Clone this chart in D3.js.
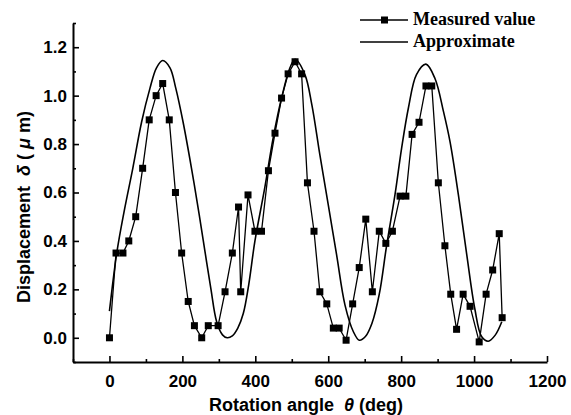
<!DOCTYPE html>
<html>
<head>
<meta charset="utf-8">
<script src="https://cdn.jsdelivr.net/npm/d3@7"></script>
<style>
  body { margin: 0; background: #fff; }
  .tick text { font-family: "Liberation Sans", Arial, sans-serif; font-weight: bold; font-size: 17px; }
</style>
</head>
<body>
<script>
// measured points (angle in deg, displacement in um)
var measuredAngle = [0, 18, 37, 53, 72, 91, 109, 128, 146, 164, 181, 198, 216, 233, 253, 271, 298, 317, 337, 354, 360,
  380, 399, 417, 436, 454, 472, 490, 509, 527, 543, 561, 577, 596, 614, 630, 649, 667, 685, 703, 721,
  740, 758, 776, 797, 813, 830, 849, 868, 884, 902, 920, 936, 952, 970, 989, 1014, 1033, 1051, 1069, 1077];
var measuredValue = [0.0, 0.35, 0.35, 0.40, 0.50, 0.70, 0.90, 1.00, 1.05, 0.90, 0.60, 0.35, 0.15, 0.05, 0.0, 0.05, 0.05, 0.19, 0.35, 0.54, 0.19,
  0.59, 0.44, 0.44, 0.69, 0.845, 0.99, 1.09, 1.14, 1.09, 0.64, 0.44, 0.19, 0.14, 0.04, 0.04, -0.01, 0.14, 0.29, 0.49, 0.19,
  0.44, 0.39, 0.44, 0.585, 0.585, 0.84, 0.89, 1.04, 1.04, 0.64, 0.38, 0.18, 0.035, 0.18, 0.13, -0.017, 0.18, 0.28, 0.43, 0.083];

// approximate curve
var approxAngle = [0, 20, 40, 64, 88, 111, 129, 146, 166, 182, 202, 225, 246, 262, 278, 294, 310, 323, 337, 352, 367, 382, 399,
  426, 449, 472, 495, 509, 536, 555, 577, 600, 623, 646, 669, 685, 702, 720, 740, 760, 783, 801, 820, 842, 868,
  893, 916, 934, 957, 980, 1002, 1021, 1039, 1058, 1076];
var approxValue = [0.11, 0.35, 0.52, 0.70, 0.89, 1.03, 1.115, 1.145, 1.115, 1.03, 0.89, 0.70, 0.51, 0.356, 0.204, 0.066, 0.012, 0.0, 0.008, 0.04, 0.10, 0.22, 0.40,
  0.62, 0.825, 0.99, 1.115, 1.15, 1.087, 0.963, 0.756, 0.55, 0.342, 0.135, 0.025, -0.01, 0.005, 0.06, 0.18, 0.38, 0.59, 0.78, 0.95, 1.087, 1.13,
  1.07, 0.935, 0.81, 0.59, 0.342, 0.12, 0.004, -0.014, 0.011, 0.066];

var xTicks = [0, 200, 400, 600, 800, 1000, 1200];
var xMinor = [-100, 100, 300, 500, 700, 900, 1100];
var yTicks = [0.0, 0.2, 0.4, 0.6, 0.8, 1.0, 1.2];
var yMinor = [-0.1, 0.1, 0.3, 0.5, 0.7, 0.9, 1.1, 1.3];

var svg = d3.select("body").append("svg")
    .attr("width", 571)
    .attr("height", 415);

var x = d3.scaleLinear().domain([-100, 1200]).range([73, 547]);
var y = d3.scaleLinear().domain([-0.1, 1.3]).range([362, 23]);

// minor ticks first (no labels)
svg.append("g")
    .attr("transform", "translate(0,362)")
    .call(d3.axisBottom(x).tickValues(xMinor).tickSizeInner(-3).tickSizeOuter(0).tickFormat(""))
    .call(function(g) { g.select(".domain").remove(); });
svg.append("g")
    .attr("transform", "translate(73,0)")
    .call(d3.axisLeft(y).tickValues(yMinor).tickSizeInner(-3).tickSizeOuter(0).tickFormat(""))
    .call(function(g) { g.select(".domain").remove(); });

var xAxis = svg.append("g")
    .attr("transform", "translate(0,362)")
    .call(d3.axisBottom(x).tickValues(xTicks).tickSizeInner(-6).tickSizeOuter(0).tickPadding(13)
      .tickFormat(d3.format("d")));
var yAxis = svg.append("g")
    .attr("transform", "translate(73,0)")
    .call(d3.axisLeft(y).tickValues(yTicks).tickSizeInner(-6).tickSizeOuter(0).tickPadding(6)
      .tickFormat(d3.format(".1f")));

svg.selectAll(".domain").attr("stroke-width", 2);
svg.selectAll(".tick line").attr("stroke-width", 1.6);
svg.selectAll(".tick text").attr("fill", "#000");

// approximate curve
var approx = approxAngle.map(function(a, i) { return [a, approxValue[i]]; });
svg.append("path")
    .datum(approx)
    .attr("fill", "none")
    .attr("stroke", "#000")
    .attr("stroke-width", 1.6)
    .attr("d", d3.line()
      .x(function(d) { return x(d[0]); })
      .y(function(d) { return y(d[1]); })
      .curve(d3.curveCatmullRom));

// measured line + squares
var measured = measuredAngle.map(function(a, i) { return [a, measuredValue[i]]; });
svg.append("path")
    .datum(measured)
    .attr("fill", "none")
    .attr("stroke", "#000")
    .attr("stroke-width", 1.3)
    .attr("d", d3.line()
      .x(function(d) { return x(d[0]); })
      .y(function(d) { return y(d[1]); }));

svg.selectAll("rect.pt")
  .data(measured)
  .enter()
    .append("rect")
    .attr("class", "pt")
    .attr("x", function(d) { return x(d[0]) - 3.5; })
    .attr("y", function(d) { return y(d[1]) - 3.5; })
    .attr("width", 7)
    .attr("height", 7)
    .attr("fill", "#000");

// axis titles
var xt = svg.append("text")
    .attr("x", 306)
    .attr("y", 411)
    .attr("text-anchor", "middle")
    .style("font-family", "'Liberation Sans', Arial, sans-serif")
    .style("font-weight", "bold")
    .style("font-size", "18px");
xt.append("tspan").text("Rotation angle ");
xt.append("tspan").style("font-style", "italic").text("\u00a0θ");
xt.append("tspan").text(" (deg)");

var yt = svg.append("text")
    .attr("transform", "translate(30,207) rotate(-90)")
    .attr("text-anchor", "middle")
    .style("font-family", "'Liberation Sans', Arial, sans-serif")
    .style("font-weight", "bold")
    .style("font-size", "18px");
yt.append("tspan").text("Displacement ");
yt.append("tspan").style("font-style", "italic").text("\u00a0δ");
yt.append("tspan").text(" ( ");
yt.append("tspan").style("font-style", "italic").text("μ");
yt.append("tspan").text(" m)");

// legend
var legend = svg.append("g");
legend.append("line")
    .attr("x1", 360).attr("x2", 408).attr("y1", 20).attr("y2", 20)
    .attr("stroke", "#000").attr("stroke-width", 1.3);
legend.append("rect")
    .attr("x", 381).attr("y", 16.5).attr("width", 7).attr("height", 7)
    .attr("fill", "#000");
legend.append("line")
    .attr("x1", 360).attr("x2", 408).attr("y1", 42).attr("y2", 42)
    .attr("stroke", "#000").attr("stroke-width", 1.3);
legend.selectAll("text.leg")
  .data(["Measured value", "Approximate"])
  .enter()
    .append("text")
    .attr("class", "leg")
    .attr("x", 413)
    .attr("y", function(d, i) { return 25 + i * 22; })
    .style("font-family", "'Liberation Serif', 'Times New Roman', serif")
    .style("font-weight", "bold")
    .style("font-size", "18px")
    .text(function(d) { return d; });
</script>
</body>
</html>
